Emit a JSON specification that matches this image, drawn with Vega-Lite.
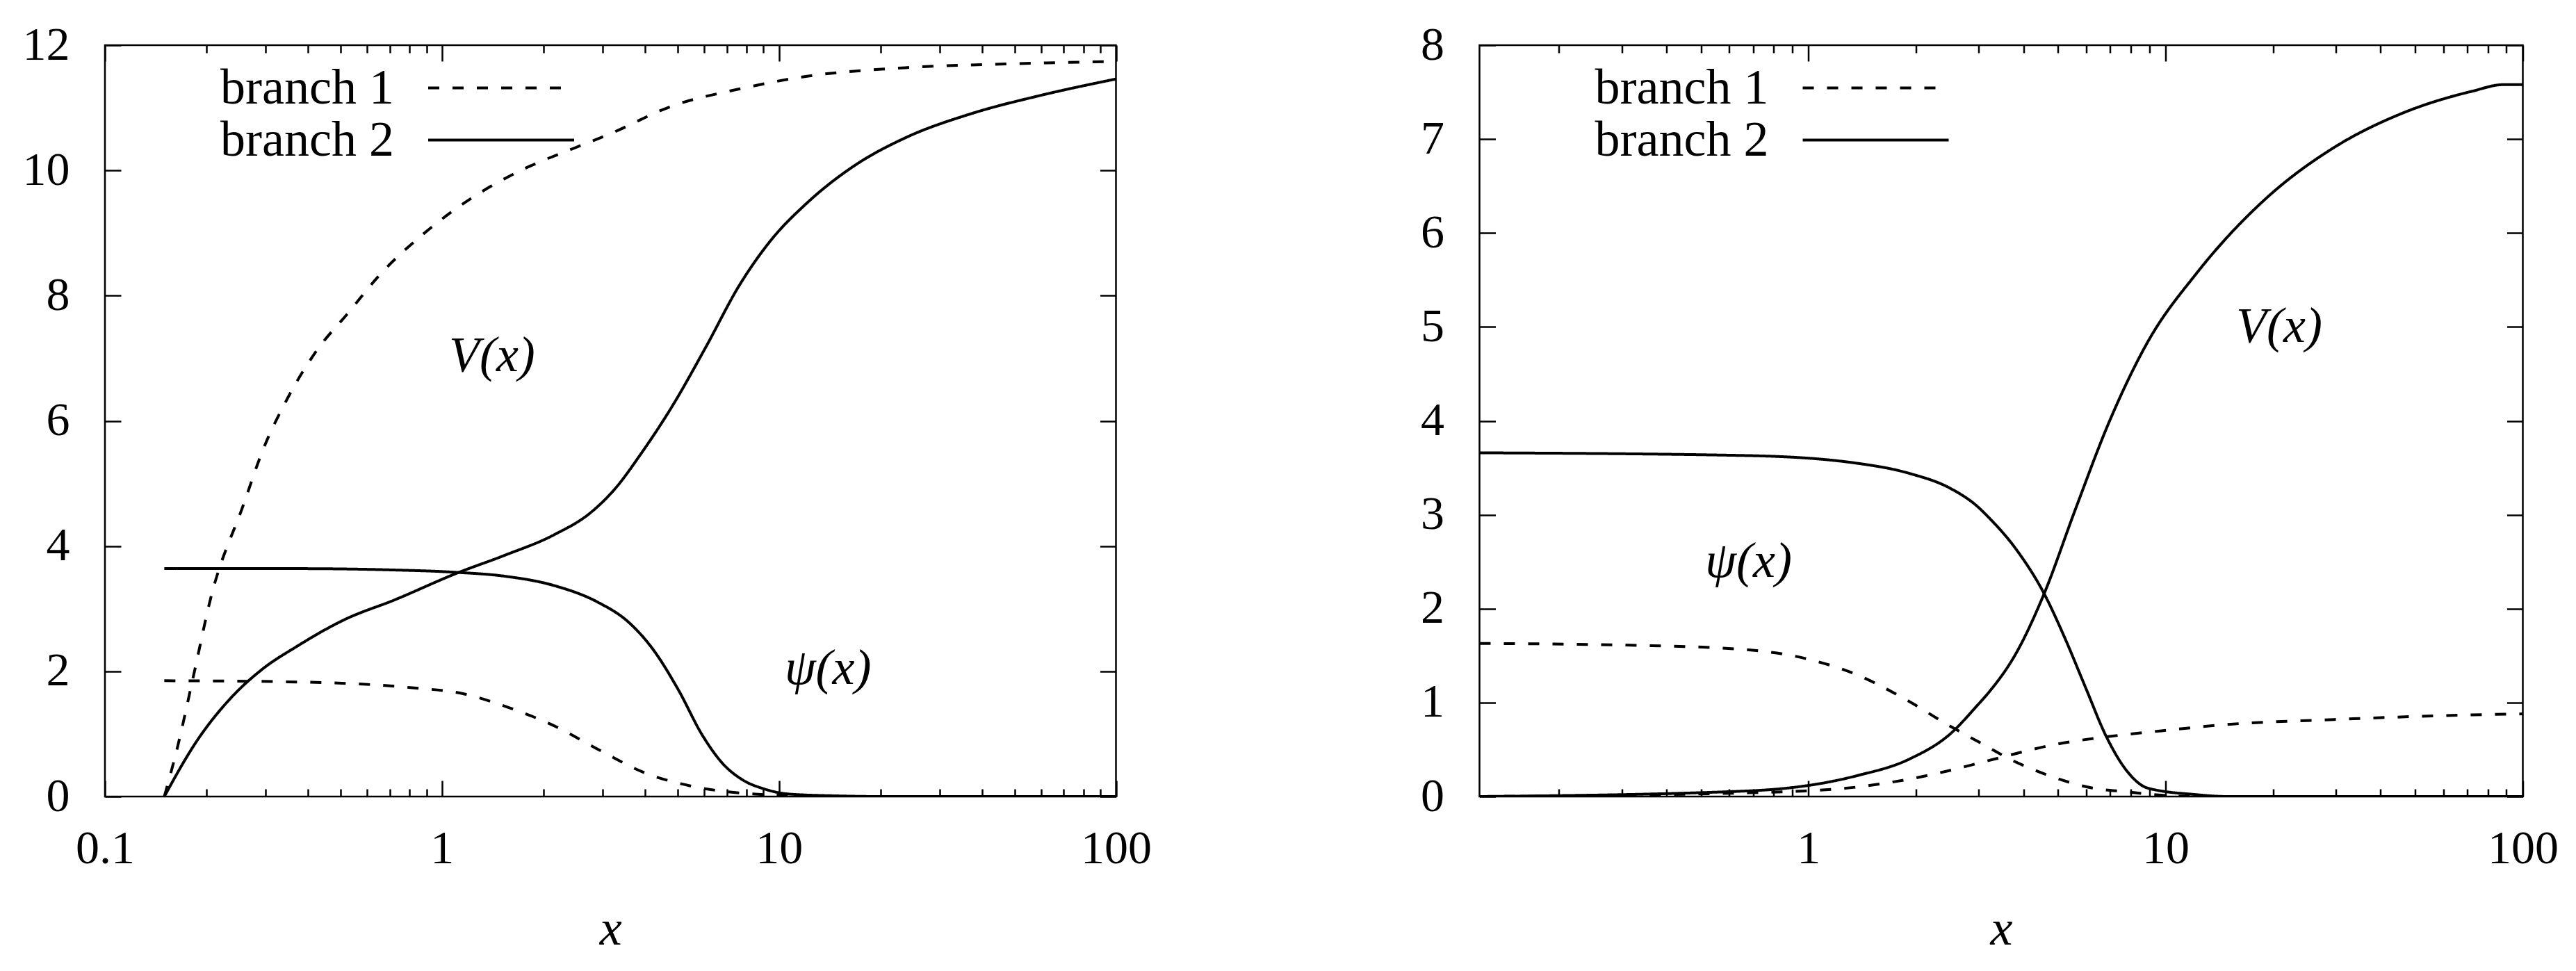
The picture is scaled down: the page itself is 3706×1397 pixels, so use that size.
{
  "$schema": "https://vega.github.io/schema/vega-lite/v6.json",
  "background": "white",
  "padding": {"left": 30, "top": 29, "right": 40, "bottom": 5},
  "bounds": "flush",
  "spacing": 522.5,
  "config": {
    "view": {"stroke": "black", "strokeWidth": 2.5},
    "font": "Liberation Serif",
    "axis": {
      "domain": false, "grid": false, "ticks": true, "tickColor": "black", "tickWidth": 2.5,
      "labelFont": "Liberation Serif", "labelFontSize": 68, "labelColor": "black",
      "labelFlush": false, "labelOverlap": false, "labelBound": false,
      "titleFont": "Liberation Serif", "titleFontSize": 72, "titleFontStyle": "italic",
      "titleFontWeight": "normal", "titleColor": "black"
    },
    "legend": {
      "orient": "none", "title": null, "symbolType": "M-5,0H5", "symbolSize": 1764,
      "symbolStrokeWidth": 4, "symbolStrokeColor": "black",
      "labelAlign": "right", "labelOffset": -190, "labelFontSize": 72, "labelFont": "Liberation Serif",
      "labelColor": "black", "labelBaseline": "middle", "labelLimit": 0,
      "rowPadding": 3, "padding": 0, "offset": 0
    }
  },
  "datasets": {
    "curves": [
      {"panel":"L","func":"V","branch":"branch 1","x":0.15,"y":0},
      {"panel":"L","func":"V","branch":"branch 1","x":0.164,"y":0.78},
      {"panel":"L","func":"V","branch":"branch 1","x":0.184,"y":1.98},
      {"panel":"L","func":"V","branch":"branch 1","x":0.206,"y":3.17},
      {"panel":"L","func":"V","branch":"branch 1","x":0.258,"y":4.67},
      {"panel":"L","func":"V","branch":"branch 1","x":0.294,"y":5.53},
      {"panel":"L","func":"V","branch":"branch 1","x":0.345,"y":6.32},
      {"panel":"L","func":"V","branch":"branch 1","x":0.422,"y":7.10},
      {"panel":"L","func":"V","branch":"branch 1","x":0.528,"y":7.73},
      {"panel":"L","func":"V","branch":"branch 1","x":0.661,"y":8.36},
      {"panel":"L","func":"V","branch":"branch 1","x":0.883,"y":8.99},
      {"panel":"L","func":"V","branch":"branch 1","x":1.21,"y":9.54},
      {"panel":"L","func":"V","branch":"branch 1","x":1.73,"y":10.01},
      {"panel":"L","func":"V","branch":"branch 1","x":2.48,"y":10.36},
      {"panel":"L","func":"V","branch":"branch 1","x":3.14,"y":10.58},
      {"panel":"L","func":"V","branch":"branch 1","x":4.83,"y":11.03},
      {"panel":"L","func":"V","branch":"branch 1","x":7.62,"y":11.30},
      {"panel":"L","func":"V","branch":"branch 1","x":12,"y":11.50},
      {"panel":"L","func":"V","branch":"branch 1","x":23.7,"y":11.64},
      {"panel":"L","func":"V","branch":"branch 1","x":46.9,"y":11.70},
      {"panel":"L","func":"V","branch":"branch 1","x":100,"y":11.74},

      {"panel":"L","func":"V","branch":"branch 2","x":0.15,"y":0},
      {"panel":"L","func":"V","branch":"branch 2","x":0.188,"y":0.9},
      {"panel":"L","func":"V","branch":"branch 2","x":0.236,"y":1.57},
      {"panel":"L","func":"V","branch":"branch 2","x":0.294,"y":2.04},
      {"panel":"L","func":"V","branch":"branch 2","x":0.369,"y":2.39},
      {"panel":"L","func":"V","branch":"branch 2","x":0.516,"y":2.83},
      {"panel":"L","func":"V","branch":"branch 2","x":0.723,"y":3.14},
      {"panel":"L","func":"V","branch":"branch 2","x":1.11,"y":3.57},
      {"panel":"L","func":"V","branch":"branch 2","x":1.53,"y":3.85},
      {"panel":"L","func":"V","branch":"branch 2","x":2.15,"y":4.18},
      {"panel":"L","func":"V","branch":"branch 2","x":2.77,"y":4.54},
      {"panel":"L","func":"V","branch":"branch 2","x":3.28,"y":4.93},
      {"panel":"L","func":"V","branch":"branch 2","x":3.89,"y":5.47},
      {"panel":"L","func":"V","branch":"branch 2","x":4.83,"y":6.24},
      {"panel":"L","func":"V","branch":"branch 2","x":6.07,"y":7.18},
      {"panel":"L","func":"V","branch":"branch 2","x":7.62,"y":8.16},
      {"panel":"L","func":"V","branch":"branch 2","x":9.55,"y":8.91},
      {"panel":"L","func":"V","branch":"branch 2","x":12,"y":9.46},
      {"panel":"L","func":"V","branch":"branch 2","x":16.9,"y":10.09},
      {"panel":"L","func":"V","branch":"branch 2","x":23.7,"y":10.52},
      {"panel":"L","func":"V","branch":"branch 2","x":37.4,"y":10.91},
      {"panel":"L","func":"V","branch":"branch 2","x":58.9,"y":11.19},
      {"panel":"L","func":"V","branch":"branch 2","x":100,"y":11.46},

      {"panel":"L","func":"psi","branch":"branch 2","x":0.15,"y":3.64},
      {"panel":"L","func":"psi","branch":"branch 2","x":0.369,"y":3.64},
      {"panel":"L","func":"psi","branch":"branch 2","x":0.7,"y":3.62},
      {"panel":"L","func":"psi","branch":"branch 2","x":1.11,"y":3.58},
      {"panel":"L","func":"psi","branch":"branch 2","x":1.53,"y":3.52},
      {"panel":"L","func":"psi","branch":"branch 2","x":2.15,"y":3.37},
      {"panel":"L","func":"psi","branch":"branch 2","x":2.91,"y":3.10},
      {"panel":"L","func":"psi","branch":"branch 2","x":3.57,"y":2.79},
      {"panel":"L","func":"psi","branch":"branch 2","x":4.23,"y":2.35},
      {"panel":"L","func":"psi","branch":"branch 2","x":5.01,"y":1.72},
      {"panel":"L","func":"psi","branch":"branch 2","x":5.94,"y":0.97},
      {"panel":"L","func":"psi","branch":"branch 2","x":6.80,"y":0.53},
      {"panel":"L","func":"psi","branch":"branch 2","x":7.78,"y":0.27},
      {"panel":"L","func":"psi","branch":"branch 2","x":9.06,"y":0.12},
      {"panel":"L","func":"psi","branch":"branch 2","x":10.7,"y":0.04},
      {"panel":"L","func":"psi","branch":"branch 2","x":15,"y":0.01},
      {"panel":"L","func":"psi","branch":"branch 2","x":20,"y":0},
      {"panel":"L","func":"psi","branch":"branch 2","x":100,"y":0},

      {"panel":"L","func":"psi","branch":"branch 1","x":0.15,"y":1.85},
      {"panel":"L","func":"psi","branch":"branch 1","x":0.369,"y":1.83},
      {"panel":"L","func":"psi","branch":"branch 1","x":0.805,"y":1.74},
      {"panel":"L","func":"psi","branch":"branch 1","x":1.16,"y":1.64},
      {"panel":"L","func":"psi","branch":"branch 1","x":1.58,"y":1.42},
      {"panel":"L","func":"psi","branch":"branch 1","x":2.19,"y":1.11},
      {"panel":"L","func":"psi","branch":"branch 1","x":2.96,"y":0.73},
      {"panel":"L","func":"psi","branch":"branch 1","x":3.95,"y":0.39},
      {"panel":"L","func":"psi","branch":"branch 1","x":5.46,"y":0.17},
      {"panel":"L","func":"psi","branch":"branch 1","x":7.52,"y":0.06},
      {"panel":"L","func":"psi","branch":"branch 1","x":10,"y":0.02},
      {"panel":"L","func":"psi","branch":"branch 1","x":15,"y":0},
      {"panel":"L","func":"psi","branch":"branch 1","x":100,"y":0},

      {"panel":"R","func":"V","branch":"branch 2","x":0.12,"y":0},
      {"panel":"R","func":"V","branch":"branch 2","x":0.68,"y":0.06},
      {"panel":"R","func":"V","branch":"branch 2","x":1.36,"y":0.22},
      {"panel":"R","func":"V","branch":"branch 2","x":1.92,"y":0.40},
      {"panel":"R","func":"V","branch":"branch 2","x":2.50,"y":0.67},
      {"panel":"R","func":"V","branch":"branch 2","x":2.97,"y":0.97},
      {"panel":"R","func":"V","branch":"branch 2","x":3.20,"y":1.11},
      {"panel":"R","func":"V","branch":"branch 2","x":3.82,"y":1.53},
      {"panel":"R","func":"V","branch":"branch 2","x":4.57,"y":2.16},
      {"panel":"R","func":"V","branch":"branch 2","x":5.58,"y":3.05},
      {"panel":"R","func":"V","branch":"branch 2","x":6.97,"y":4.0},
      {"panel":"R","func":"V","branch":"branch 2","x":8.91,"y":4.84},
      {"panel":"R","func":"V","branch":"branch 2","x":12.2,"y":5.57},
      {"panel":"R","func":"V","branch":"branch 2","x":19,"y":6.36},
      {"panel":"R","func":"V","branch":"branch 2","x":29.6,"y":6.91},
      {"panel":"R","func":"V","branch":"branch 2","x":46.3,"y":7.28},
      {"panel":"R","func":"V","branch":"branch 2","x":72.2,"y":7.51},
      {"panel":"R","func":"V","branch":"branch 2","x":88.2,"y":7.58},
      {"panel":"R","func":"V","branch":"branch 2","x":100,"y":7.58},

      {"panel":"R","func":"psi","branch":"branch 2","x":0.12,"y":3.66},
      {"panel":"R","func":"psi","branch":"branch 2","x":0.68,"y":3.63},
      {"panel":"R","func":"psi","branch":"branch 2","x":1.36,"y":3.55},
      {"panel":"R","func":"psi","branch":"branch 2","x":1.92,"y":3.44},
      {"panel":"R","func":"psi","branch":"branch 2","x":2.50,"y":3.28},
      {"panel":"R","func":"psi","branch":"branch 2","x":2.97,"y":3.09},
      {"panel":"R","func":"psi","branch":"branch 2","x":3.20,"y":2.97},
      {"panel":"R","func":"psi","branch":"branch 2","x":3.82,"y":2.63},
      {"panel":"R","func":"psi","branch":"branch 2","x":4.57,"y":2.16},
      {"panel":"R","func":"psi","branch":"branch 2","x":5.22,"y":1.69},
      {"panel":"R","func":"psi","branch":"branch 2","x":5.97,"y":1.16},
      {"panel":"R","func":"psi","branch":"branch 2","x":6.82,"y":0.64},
      {"panel":"R","func":"psi","branch":"branch 2","x":7.8,"y":0.27},
      {"panel":"R","func":"psi","branch":"branch 2","x":8.91,"y":0.09},
      {"panel":"R","func":"psi","branch":"branch 2","x":12.2,"y":0.02},
      {"panel":"R","func":"psi","branch":"branch 2","x":15,"y":0},
      {"panel":"R","func":"psi","branch":"branch 2","x":100,"y":0},

      {"panel":"R","func":"psi","branch":"branch 1","x":0.12,"y":1.63},
      {"panel":"R","func":"psi","branch":"branch 1","x":0.33,"y":1.61},
      {"panel":"R","func":"psi","branch":"branch 1","x":0.637,"y":1.57},
      {"panel":"R","func":"psi","branch":"branch 1","x":0.98,"y":1.47},
      {"panel":"R","func":"psi","branch":"branch 1","x":1.36,"y":1.30},
      {"panel":"R","func":"psi","branch":"branch 1","x":1.88,"y":1.03},
      {"panel":"R","func":"psi","branch":"branch 1","x":2.44,"y":0.77},
      {"panel":"R","func":"psi","branch":"branch 1","x":3.17,"y":0.53},
      {"panel":"R","func":"psi","branch":"branch 1","x":3.57,"y":0.42},
      {"panel":"R","func":"psi","branch":"branch 1","x":4.18,"y":0.3},
      {"panel":"R","func":"psi","branch":"branch 1","x":4.99,"y":0.19},
      {"panel":"R","func":"psi","branch":"branch 1","x":6.24,"y":0.09},
      {"panel":"R","func":"psi","branch":"branch 1","x":7.8,"y":0.05},
      {"panel":"R","func":"psi","branch":"branch 1","x":9.3,"y":0.02},
      {"panel":"R","func":"psi","branch":"branch 1","x":12,"y":0},
      {"panel":"R","func":"psi","branch":"branch 1","x":100,"y":0},

      {"panel":"R","func":"V","branch":"branch 1","x":0.12,"y":0},
      {"panel":"R","func":"V","branch":"branch 1","x":0.68,"y":0.04},
      {"panel":"R","func":"V","branch":"branch 1","x":0.98,"y":0.06},
      {"panel":"R","func":"V","branch":"branch 1","x":1.36,"y":0.10},
      {"panel":"R","func":"V","branch":"branch 1","x":1.88,"y":0.18},
      {"panel":"R","func":"V","branch":"branch 1","x":2.44,"y":0.27},
      {"panel":"R","func":"V","branch":"branch 1","x":3.17,"y":0.38},
      {"panel":"R","func":"V","branch":"branch 1","x":4.99,"y":0.56},
      {"panel":"R","func":"V","branch":"branch 1","x":6.97,"y":0.64},
      {"panel":"R","func":"V","branch":"branch 1","x":9.73,"y":0.70},
      {"panel":"R","func":"V","branch":"branch 1","x":15.2,"y":0.77},
      {"panel":"R","func":"V","branch":"branch 1","x":29.6,"y":0.82},
      {"panel":"R","func":"V","branch":"branch 1","x":57.8,"y":0.86},
      {"panel":"R","func":"V","branch":"branch 1","x":100,"y":0.88}
    ],
    "labels": [
      {"panel":"L","label":"V(x)","x":1.408,"y":6.79},
      {"panel":"L","label":"ψ(x)","x":13.98,"y":1.80},
      {"panel":"R","label":"ψ(x)","x":0.68,"y":2.335},
      {"panel":"R","label":"V(x)","x":20.8,"y":4.84}
    ]
  },
  "resolve": {
    "scale": {"x": "independent", "y": "independent", "strokeDash": "independent"},
    "legend": {"strokeDash": "independent"}
  },
  "hconcat": [
    {
      "width": 1454.5,
      "height": 1081,
      "resolve": {"axis": {"x": "independent", "y": "independent"}},
      "layer": [
        {
          "data": {"name": "curves"},
          "transform": [{"filter": "datum.panel == 'L'"}],
          "mark": {"type": "line", "strokeWidth": 4, "color": "black", "interpolate": "monotone", "clip": true},
          "encoding": {
            "x": {
              "field": "x", "type": "quantitative",
              "scale": {"type": "log", "domain": [0.1, 100], "nice": false},
              "axis": {
                "orient": "bottom",
                "values": [0.1,0.2,0.3,0.4,0.5,0.6,0.7,0.8,0.9,1,2,3,4,5,6,7,8,9,10,20,30,40,50,60,70,80,90,100],
                "tickSize": {"condition": {"test": "indexof([0.1,1,10,100], datum.value) >= 0", "value": -23}, "value": -11},
                "labelExpr": "datum.value == 0.1 ? '0.1' : datum.value == 1 ? '1' : datum.value == 10 ? '10' : datum.value == 100 ? '100' : ''",
                "labelBaseline": "alphabetic",
                "labelPadding": 118,
                "title": "x",
                "titleBaseline": "alphabetic",
                "titleY": 212
              }
            },
            "y": {
              "field": "y", "type": "quantitative",
              "scale": {"domain": [0, 12], "nice": false, "zero": false},
              "axis": {"orient": "left", "values": [0,2,4,6,8,10,12], "tickSize": -23, "labelPadding": 74, "title": null}
            },
            "detail": {"field": "func"},
            "strokeDash": {
              "field": "branch", "type": "nominal",
              "scale": {"domain": ["branch 1", "branch 2"], "range": [[16, 19], [1, 0]]},
              "legend": {"legendX": 534, "legendY": 25.5}
            }
          }
        },
        {
          "data": {"name": "labels"},
          "transform": [{"filter": "datum.panel == 'L'"}],
          "mark": {"type": "text", "font": "Liberation Serif", "fontStyle": "italic", "fontSize": 72, "align": "center", "baseline": "alphabetic", "color": "black"},
          "encoding": {
            "x": {
              "field": "x", "type": "quantitative",
              "scale": {"type": "log", "domain": [0.1, 100], "nice": false},
              "axis": {
                "orient": "top",
                "values": [0.1,0.2,0.3,0.4,0.5,0.6,0.7,0.8,0.9,1,2,3,4,5,6,7,8,9,10,20,30,40,50,60,70,80,90,100],
                "tickSize": {"condition": {"test": "indexof([0.1,1,10,100], datum.value) >= 0", "value": -23}, "value": -11},
                "labels": false, "title": null
              }
            },
            "y": {
              "field": "y", "type": "quantitative",
              "scale": {"domain": [0, 12], "nice": false, "zero": false},
              "axis": {"orient": "right", "values": [0,2,4,6,8,10,12], "tickSize": -23, "labels": false, "title": null}
            },
            "text": {"field": "label"}
          }
        }
      ]
    },
    {
      "width": 1501,
      "height": 1081,
      "resolve": {"axis": {"x": "independent", "y": "independent"}},
      "layer": [
        {
          "data": {"name": "curves"},
          "transform": [{"filter": "datum.panel == 'R'"}],
          "mark": {"type": "line", "strokeWidth": 4, "color": "black", "interpolate": "monotone", "clip": true},
          "encoding": {
            "x": {
              "field": "x", "type": "quantitative",
              "scale": {"type": "log", "domain": [0.12, 100], "nice": false},
              "axis": {
                "orient": "bottom",
                "values": [0.2,0.3,0.4,0.5,0.6,0.7,0.8,0.9,1,2,3,4,5,6,7,8,9,10,20,30,40,50,60,70,80,90,100],
                "tickSize": {"condition": {"test": "indexof([1,10,100], datum.value) >= 0", "value": -23}, "value": -11},
                "labelExpr": "datum.value == 1 ? '1' : datum.value == 10 ? '10' : datum.value == 100 ? '100' : ''",
                "labelBaseline": "alphabetic",
                "labelPadding": 118,
                "title": "x",
                "titleBaseline": "alphabetic",
                "titleY": 212
              }
            },
            "y": {
              "field": "y", "type": "quantitative",
              "scale": {"domain": [0, 8], "nice": false, "zero": false},
              "axis": {"orient": "left", "values": [0,1,2,3,4,5,6,7,8], "tickSize": -23, "labelPadding": 74, "title": null}
            },
            "detail": {"field": "func"},
            "strokeDash": {
              "field": "branch", "type": "nominal",
              "scale": {"domain": ["branch 1", "branch 2"], "range": [[16, 19], [1, 0]]},
              "legend": {"legendX": 534, "legendY": 25.5}
            }
          }
        },
        {
          "data": {"name": "labels"},
          "transform": [{"filter": "datum.panel == 'R'"}],
          "mark": {"type": "text", "font": "Liberation Serif", "fontStyle": "italic", "fontSize": 72, "align": "center", "baseline": "alphabetic", "color": "black"},
          "encoding": {
            "x": {
              "field": "x", "type": "quantitative",
              "scale": {"type": "log", "domain": [0.12, 100], "nice": false},
              "axis": {
                "orient": "top",
                "values": [0.2,0.3,0.4,0.5,0.6,0.7,0.8,0.9,1,2,3,4,5,6,7,8,9,10,20,30,40,50,60,70,80,90,100],
                "tickSize": {"condition": {"test": "indexof([1,10,100], datum.value) >= 0", "value": -23}, "value": -11},
                "labels": false, "title": null
              }
            },
            "y": {
              "field": "y", "type": "quantitative",
              "scale": {"domain": [0, 8], "nice": false, "zero": false},
              "axis": {"orient": "right", "values": [0,1,2,3,4,5,6,7,8], "tickSize": -23, "labels": false, "title": null}
            },
            "text": {"field": "label"}
          }
        }
      ]
    }
  ]
}
